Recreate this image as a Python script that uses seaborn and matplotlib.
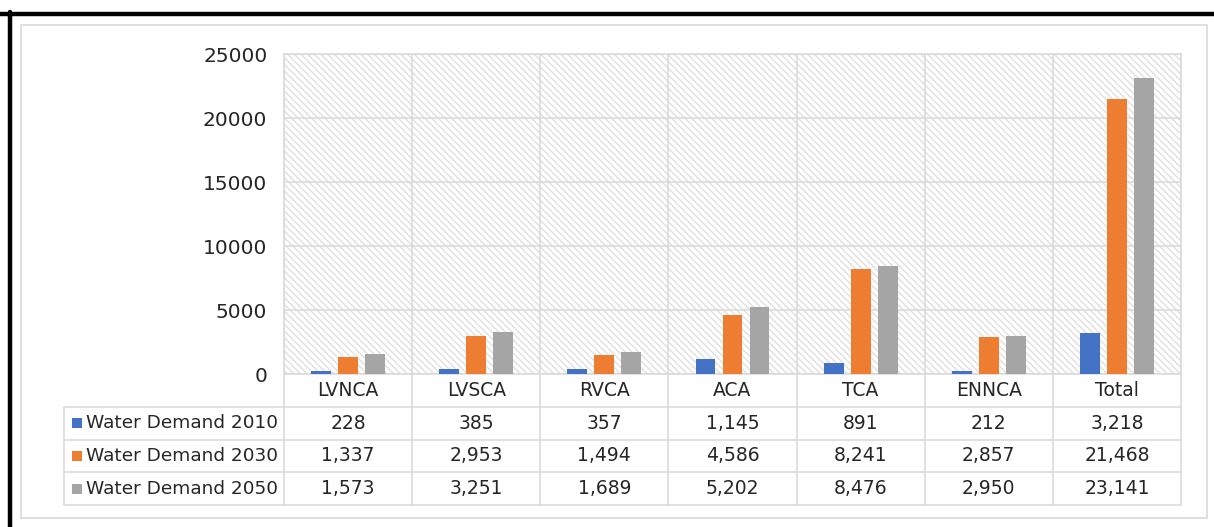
import numpy as np
import pandas as pd
import matplotlib
matplotlib.use("Agg")
import matplotlib.pyplot as plt
from matplotlib.lines import Line2D
from matplotlib.patches import Rectangle
import seaborn as sns

# datos de la tabla
categorias = ["LVNCA", "LVSCA", "RVCA", "ACA", "TCA", "ENNCA", "Total"]
series = ["Water Demand 2010", "Water Demand 2030", "Water Demand 2050"]
demanda_2010 = [228, 385, 357, 1145, 891, 212, 3218]
demanda_2030 = [1337, 2953, 1494, 4586, 8241, 2857, 21468]
demanda_2050 = [1573, 3251, 1689, 5202, 8476, 2950, 23141]
colores = ["#4472C4", "#ED7D31", "#A5A5A5"]

valores = [demanda_2010, demanda_2030, demanda_2050]
df = pd.DataFrame({
    "Categoria": categorias * 3,
    "Serie": np.repeat(series, len(categorias)),
    "Demanda": demanda_2010 + demanda_2030 + demanda_2050,
})

sns.set_style("white")
plt.rcParams["font.family"] = ["DejaVu Sans"]
plt.rcParams["hatch.linewidth"] = 1.1
grid_col = "#d9d9d9"
txt_col = "#262626"

W, H = 1214, 527
fig = plt.figure(figsize=(W / 100, H / 100), dpi=100)

def fx(px):
    return px / W

def fy(py):
    return 1 - py / H

# marco exterior (negro arriba e izquierda) y borde gris interior
fig.add_artist(Line2D([fx(0), fx(W)], [fy(13.5), fy(13.5)], color="black", lw=3.2, transform=fig.transFigure))
fig.add_artist(Line2D([fx(10), fx(10)], [fy(12), fy(H)], color="black", lw=3.2, transform=fig.transFigure))
fig.add_artist(Rectangle((fx(21), fy(518)), fx(1207 - 21), (518 - 25) / H, fill=False,
                         edgecolor=grid_col, lw=1.2, transform=fig.transFigure))

# grafico de barras
ax = fig.add_axes([fx(284), fy(374), fx(1181 - 284), (374 - 54) / H])
ax.patch.set_facecolor("white")
ax.patch.set_hatch("\\\\\\\\\\")
ax.patch.set_edgecolor("#e2e2e2")
sns.barplot(data=df, x="Categoria", y="Demanda", hue="Serie", palette=colores,
            width=0.632, gap=0.26, saturation=1, linewidth=0, ax=ax, zorder=3)
ax.legend_.remove()
ax.set_xlim(-0.5, len(categorias) - 0.5)
ax.set_ylim(0, 25000)
ax.set_yticks(range(0, 25001, 5000))
ax.set_xticks([])
ax.set_xticks(np.arange(-0.5, len(categorias)), minor=True)
ax.grid(True, axis="y", color=grid_col, lw=1.1, zorder=1)
ax.grid(True, axis="x", which="minor", color=grid_col, lw=1.1, zorder=1)
ax.tick_params(axis="y", length=0, pad=12, labelsize=14.5, labelcolor=txt_col)
ax.tick_params(axis="x", which="both", length=0)
ax.set_xlabel("")
ax.set_ylabel("")
for s in ax.spines.values():
    s.set_color(grid_col)
    s.set_linewidth(1.1)

# tabla de datos
n = len(categorias)
ancho_col = (1181 - 284) / n
x_izq = -0.5 - (284 - 64) / ancho_col
tax = fig.add_axes([fx(64), fy(505), fx(1181 - 64), (505 - 374) / H])
tax.set_xlim(x_izq, n - 0.5)
tax.set_ylim(4, 0)
tax.axis("off")
for i in range(n + 1):
    tax.plot([i - 0.5, i - 0.5], [0, 4], color=grid_col, lw=1.1, clip_on=False)
tax.plot([x_izq, x_izq], [1, 4], color=grid_col, lw=1.1, clip_on=False)
for r in range(1, 5):
    tax.plot([x_izq, n - 0.5], [r, r], color=grid_col, lw=1.1, clip_on=False)

for i, c in enumerate(categorias):
    tax.text(i, 0.5, c, ha="center", va="center", fontsize=13.5, color=txt_col)
for r, (nombre, vals, col) in enumerate(zip(series, valores, colores)):
    y = r + 1.5
    tax.scatter([x_izq + 13 / ancho_col], [y], marker="s", s=55, color=col, linewidths=0, clip_on=False)
    tax.text(x_izq + 22 / ancho_col, y, nombre, ha="left", va="center", fontsize=13.3, color=txt_col)
    for i, v in enumerate(vals):
        tax.text(i, y, f"{v:,}", ha="center", va="center", fontsize=13.5, color=txt_col)

fig.savefig("out.png", dpi=100, facecolor="white")
